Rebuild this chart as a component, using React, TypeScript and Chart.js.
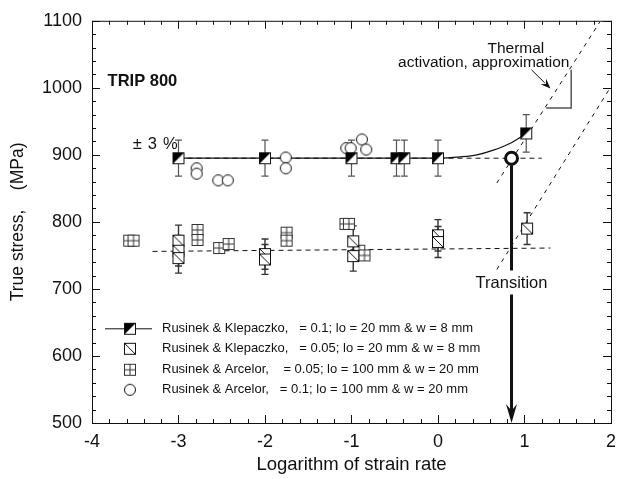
import React, { useEffect, useRef } from 'react';
import { Chart, registerables } from 'chart.js';

Chart.register(...registerables);

// ---------- data ----------
const klep01X = [-3, -2, -1, -0.48, -0.39, 0, 1.02];
const klep01Y = [895, 895, 895, 895, 895, 895, 932];
const klep01CurveX = [-3, 0, 0.26, 0.45, 0.64, 0.83, 1.02];
const klep01CurveY = [895, 895, 897, 900, 907, 917, 932];

const klep005X = [-3, -3, -3, -2, -2, -0.98, -0.98, 0, 0, 1.03];
const klep005Y = [772, 757, 746, 752, 744, 771, 749, 780, 770, 790];

const arc005X = [-3.57, -3.52, -2.78, -2.78, -2.53, -2.42, -1.75, -1.75, -1.07, -1.03, -0.91, -0.85];
const arc005Y = [772, 772, 788, 773, 761, 767, 784, 772, 797, 797, 757, 750];

const arc01X = [-2.79, -2.79, -2.54, -2.43, -1.76, -1.76, -1.06, -1.01, -0.88, -0.83];
const arc01Y = [880, 872, 862, 862, 896, 880, 910, 910, 923, 908];

const errorFraction = 0.03;

const upperPlateauX = [-3, 1.2];
const upperPlateauY = [895, 895];
const lowerPlateauX = [-3.3, 1.3];
const lowerPlateauY = [756, 761];
const thermalUpperX = [0.68, 1.87];
const thermalUpperY = [858, 1098];
const thermalLowerX = [0.68, 2.0];
const thermalLowerY = [729, 1002];
const slopeTriangleX = [1.25, 1.54, 1.54];
const slopeTriangleY = [970, 970, 1027];
const transitionX = [0.85];
const transitionY = [895];
const thermalArrowX = [1.08, 1.3];
const thermalArrowY = [1027, 999];

const xMin = -4, xMax = 2, xStep = 1, xMinor = 0.2;
const yMin = 500, yMax = 1100, yStep = 100, yMinor = 20;

const legendLabels = [
  'Rusinek & Klepaczko,   = 0.1; lo = 20 mm & w = 8 mm',
  'Rusinek & Klepaczko,   = 0.05; lo = 20 mm & w = 8 mm',
  'Rusinek & Arcelor,    = 0.05; lo = 100 mm & w = 20 mm',
  'Rusinek & Arcelor,   = 0.1; lo = 100 mm & w = 20 mm',
];

const FONT = '"Liberation Sans", Arial, Helvetica, sans-serif';

const toPts = (xs: number[], ys: number[]) => xs.map((x, i) => ({ x, y: ys[i] }));

function makeMarker(kind: 'half' | 'diag' | 'grid' | 'circle'): HTMLCanvasElement {
  const s = 14;
  const c = document.createElement('canvas');
  c.width = s;
  c.height = s;
  const g = c.getContext('2d')!;
  const a = 1.5, b = 12.5;
  if (kind === 'circle') {
    g.fillStyle = '#fff';
    g.beginPath();
    g.arc(7, 7, 5.5, 0, Math.PI * 2);
    g.fill();
    g.strokeStyle = '#111';
    g.lineWidth = 1;
    g.stroke();
    return c;
  }
  g.fillStyle = '#fff';
  g.fillRect(a, a, b - a, b - a);
  g.strokeStyle = kind === 'grid' ? '#333' : '#111';
  g.lineWidth = 1;
  if (kind === 'half') {
    g.fillStyle = '#000';
    g.beginPath();
    g.moveTo(a, a);
    g.lineTo(b, a);
    g.lineTo(a, b);
    g.closePath();
    g.fill();
  } else if (kind === 'diag') {
    g.beginPath();
    g.moveTo(a, a);
    g.lineTo(b, b);
    g.stroke();
  } else if (kind === 'grid') {
    g.beginPath();
    g.moveTo(7, a);
    g.lineTo(7, b);
    g.moveTo(a, 7);
    g.lineTo(b, 7);
    g.stroke();
  }
  g.strokeRect(a, a, b - a, b - a);
  return c;
}

function arrowHead(ctx: CanvasRenderingContext2D, x1: number, y1: number, x2: number, y2: number, len: number, half: number) {
  const ang = Math.atan2(y2 - y1, x2 - x1);
  ctx.save();
  ctx.translate(x2, y2);
  ctx.rotate(ang);
  ctx.beginPath();
  ctx.moveTo(0, 0);
  ctx.lineTo(-len, -half);
  ctx.lineTo(-len * 0.65, 0);
  ctx.lineTo(-len, half);
  ctx.closePath();
  ctx.fill();
  ctx.restore();
}

export default function App() {
  const ref = useRef<HTMLCanvasElement | null>(null);

  useEffect(() => {
    document.body.style.margin = '0';
    const canvas = ref.current!;
    const markers = {
      half: makeMarker('half'),
      diag: makeMarker('diag'),
      grid: makeMarker('grid'),
      circle: makeMarker('circle'),
    };

    const decorations = {
      id: 'decorations',
      beforeDatasetsDraw(chart: any) {
        const { ctx, scales } = chart;
        const xs = scales.x, ys = scales.y;
        ctx.save();
        const drawErr = (X: number[], Y: number[], color: string, w: number) => {
          ctx.strokeStyle = color;
          ctx.lineWidth = w;
          X.forEach((x, i) => {
            const px = xs.getPixelForValue(x);
            const top = ys.getPixelForValue(Y[i] * (1 + errorFraction));
            const bot = ys.getPixelForValue(Y[i] * (1 - errorFraction));
            ctx.beginPath();
            ctx.moveTo(px, top);
            ctx.lineTo(px, bot);
            ctx.moveTo(px - 3.5, top);
            ctx.lineTo(px + 3.5, top);
            ctx.moveTo(px - 3.5, bot);
            ctx.lineTo(px + 3.5, bot);
            ctx.stroke();
          });
        };
        drawErr(klep01X, klep01Y, '#555', 1.2);
        drawErr(klep005X, klep005Y, '#333', 1.4);
        ctx.restore();
      },
      afterDatasetsDraw(chart: any) {
        const { ctx, scales, chartArea } = chart;
        const xs = scales.x, ys = scales.y;
        const X = (v: number) => xs.getPixelForValue(v);
        const Y = (v: number) => ys.getPixelForValue(v);
        ctx.save();

        // Transition arrow
        const tx = X(transitionX[0]);
        const ty = Y(transitionY[0]);
        const textY = Y(708);
        ctx.strokeStyle = '#111';
        ctx.fillStyle = '#111';
        ctx.lineWidth = 3;
        ctx.beginPath();
        ctx.moveTo(tx, ty + 7);
        ctx.lineTo(tx, textY - 13);
        ctx.moveTo(tx, textY + 11);
        ctx.lineTo(tx, chartArea.bottom - 12);
        ctx.stroke();
        arrowHead(ctx, tx, textY, tx, chartArea.bottom, 19, 5.5);

        // thermal annotation arrow
        ctx.lineWidth = 1;
        const ax1 = X(thermalArrowX[0]), ay1 = Y(thermalArrowY[0]);
        const ax2 = X(thermalArrowX[1]), ay2 = Y(thermalArrowY[1]);
        ctx.beginPath();
        ctx.moveTo(ax1, ay1);
        ctx.lineTo(ax2 - (ax2 - ax1) * 0.3, ay2 - (ay2 - ay1) * 0.3);
        ctx.stroke();
        arrowHead(ctx, ax1, ay1, ax2, ay2, 10, 4);

        // texts
        ctx.fillStyle = '#111';
        ctx.textBaseline = 'middle';
        ctx.font = `16.5px ${FONT}`;
        ctx.textAlign = 'center';
        ctx.fillText('Transition', tx, textY);
        ctx.font = `15.5px ${FONT}`;
        ctx.fillText('Thermal', X(0.9), Y(1058));
        ctx.textAlign = 'right';
        ctx.fillText('activation, approximation', X(1.52), Y(1038));

        ctx.textAlign = 'left';
        ctx.font = `bold 16.5px ${FONT}`;
        ctx.fillText('TRIP 800', X(-3.82), Y(1010));

        ctx.font = `16.5px ${FONT}`;
        (ctx as any).letterSpacing = '6px';
        ctx.fillText('±3%', X(-3.53), Y(916));
        (ctx as any).letterSpacing = '0px';

        // legend
        const lx = chartArea.left + 38;
        const tx0 = chartArea.left + 70;
        const rows = [308, 328, 349, 369].map((d) => chartArea.top + d);
        const legendMarkers = [markers.half, markers.diag, markers.grid, markers.circle];
        ctx.strokeStyle = '#111';
        ctx.lineWidth = 1;
        ctx.beginPath();
        ctx.moveTo(chartArea.left + 13, rows[0]);
        ctx.lineTo(chartArea.left + 60, rows[0]);
        ctx.stroke();
        ctx.font = `13px ${FONT}`;
        legendLabels.forEach((t, i) => {
          ctx.drawImage(legendMarkers[i], lx - 7, rows[i] - 7);
          ctx.fillText(t, tx0, rows[i]);
        });

        // frame + inward ticks
        ctx.strokeStyle = '#111';
        ctx.lineWidth = 1;
        const { left, right, top, bottom } = chartArea;
        ctx.strokeRect(left + 0.5, top + 0.5, right - left, bottom - top);
        ctx.beginPath();
        const nx = Math.round((xMax - xMin) / xMinor);
        for (let i = 0; i <= nx; i++) {
          const v = xMin + i * xMinor;
          const px = Math.round(X(v)) + 0.5;
          const len = Math.abs(v / xStep - Math.round(v / xStep)) < 1e-6 ? 8 : 4;
          ctx.moveTo(px, bottom);
          ctx.lineTo(px, bottom - len);
          ctx.moveTo(px, top);
          ctx.lineTo(px, top + len);
        }
        const ny = Math.round((yMax - yMin) / yMinor);
        for (let i = 0; i <= ny; i++) {
          const v = yMin + i * yMinor;
          const py = Math.round(Y(v)) + 0.5;
          const len = v % yStep === 0 ? 8 : 4;
          ctx.moveTo(left, py);
          ctx.lineTo(left + len, py);
          ctx.moveTo(right, py);
          ctx.lineTo(right - len, py);
        }
        ctx.stroke();
        ctx.restore();
      },
    };

    const dashed = (xs: number[], ys: number[], dash: number[]) => ({
      data: toPts(xs, ys),
      showLine: true,
      borderColor: '#111',
      borderWidth: 1,
      borderDash: dash,
      pointRadius: 0,
      order: 10,
    });

    const pointSet = (xs: number[], ys: number[], style: HTMLCanvasElement, label: string) => ({
      label,
      data: toPts(xs, ys),
      showLine: false,
      pointStyle: style,
      pointRadius: 6,
      order: 1,
    });

    const chart = new Chart(canvas, {
      type: 'scatter',
      data: {
        datasets: [
          {
            data: toPts(transitionX, transitionY),
            pointStyle: 'circle',
            pointRadius: 6,
            pointBorderWidth: 3,
            pointBackgroundColor: '#fff',
            pointBorderColor: '#111',
            order: 0,
          } as any,
          pointSet(klep01X, klep01Y, markers.half, legendLabels[0]),
          pointSet(klep005X, klep005Y, markers.diag, legendLabels[1]),
          pointSet(arc005X, arc005Y, markers.grid, legendLabels[2]),
          pointSet(arc01X, arc01Y, markers.circle, legendLabels[3]),
          {
            data: toPts(klep01CurveX, klep01CurveY),
            showLine: true,
            borderColor: '#111',
            borderWidth: 1.2,
            pointRadius: 0,
            cubicInterpolationMode: 'monotone',
            order: 5,
          } as any,
          dashed(upperPlateauX, upperPlateauY, [5, 4]),
          dashed(lowerPlateauX, lowerPlateauY, [5, 4]),
          dashed(thermalUpperX, thermalUpperY, [4, 5]),
          dashed(thermalLowerX, thermalLowerY, [4, 5]),
          {
            data: toPts(slopeTriangleX, slopeTriangleY),
            showLine: true,
            borderColor: '#555',
            borderWidth: 1.5,
            pointRadius: 0,
            order: 10,
          },
        ],
      },
      options: {
        animation: false,
        responsive: false,
        layout: { padding: { top: 13, right: 9, left: 0, bottom: 0 } },
        plugins: { legend: { display: false }, tooltip: { enabled: false } },
        scales: {
          x: {
            type: 'linear',
            min: xMin,
            max: xMax,
            grid: { display: false, drawTicks: false },
            border: { display: false },
            ticks: {
              stepSize: xStep,
              padding: 8,
              color: '#111',
              font: { family: FONT, size: 18 },
              callback: (v: any) => String(v),
            },
            title: {
              display: true,
              text: 'Logarithm of strain rate',
              color: '#111',
              font: { family: FONT, size: 18.5 },
              padding: { top: 0, bottom: 3 },
            },
            afterFit: (s: any) => {
              s.height = 56;
            },
          },
          y: {
            type: 'linear',
            min: yMin,
            max: yMax,
            grid: { display: false, drawTicks: false },
            border: { display: false },
            ticks: {
              stepSize: yStep,
              padding: 10,
              color: '#111',
              font: { family: FONT, size: 18 },
              callback: (v: any) => String(v),
            },
            title: {
              display: true,
              text: 'True stress,\u00A0\u00A0\u00A0\u00A0(MPa)',
              color: '#111',
              font: { family: FONT, size: 17.5 },
              padding: { top: 8, bottom: 0 },
            },
            afterFit: (s: any) => {
              s.width = 92;
            },
          },
        },
      },
      plugins: [decorations],
    });

    return () => chart.destroy();
  }, []);

  return <canvas ref={ref} width={624} height={479} style={{ display: 'block', width: 624, height: 479 }} />;
}
